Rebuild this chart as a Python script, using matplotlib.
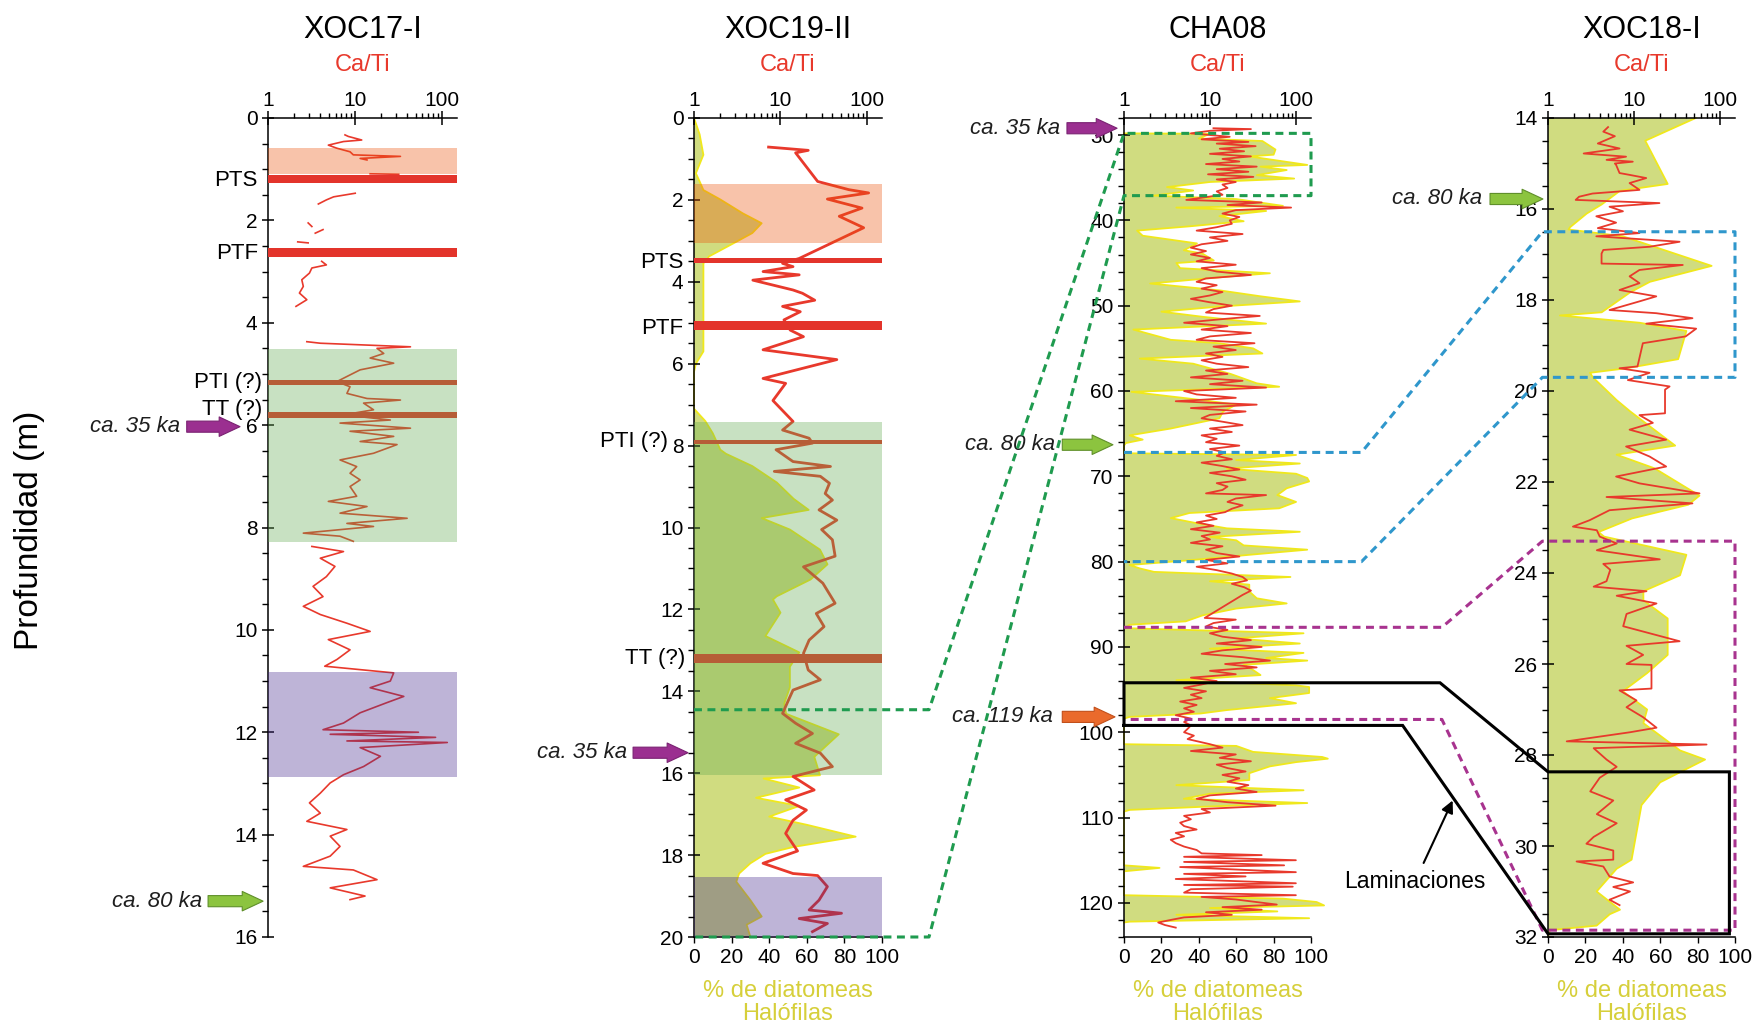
import numpy as np
import matplotlib
matplotlib.use("Agg")
from matplotlib import pyplot as plt
from matplotlib import transforms
from matplotlib.lines import Line2D
from matplotlib.patches import FancyArrowPatch
from matplotlib.ticker import MultipleLocator, NullFormatter

plt.rcParams['font.family'] = ['Liberation Sans', 'DejaVu Sans']

nan = np.nan

CORES = ['XOC17-I', 'XOC19-II', 'CHA08', 'XOC18-I']

# Ca/Ti (profundidad m, razon) -- nan corta la serie donde no hay medida
XOC17_CATI = [
    (0.33, 7.7), (0.36, 8.4), (0.43, 12), (0.46, 7.4), (0.53, 4.95), (0.59, 6.2), (0.66, 8.8),
    (0.72, 9.6), (0.75, 33.5), (0.79, 11.5), (0.82, 13.8), (nan, nan),
    (1.09, 15), (1.10, 32), (nan, nan),
    (1.47, 10.1), (1.54, 5.7), (1.60, 4.7), (1.68, 3.8), (nan, nan),
    (2.05, 2.9), (2.12, 3.2), (nan, nan), (2.18, 4.3), (2.25, 3.5), (nan, nan),
    (2.42, 2.2), (2.44, 2.9), (nan, nan),
    (2.80, 4.15), (2.87, 4.7), (2.93, 3.2), (3.03, 3.0), (3.16, 2.45), (3.29, 2.55), (3.42, 2.3),
    (3.55, 2.8), (3.68, 2.1), (nan, nan),
    (4.37, 2.8), (4.40, 4.0), (4.47, 43.7), (4.50, 18), (4.60, 21.5), (4.69, 15), (4.79, 28),
    (4.92, 11.5), (5.05, 8.1), (5.15, 6.2), (5.25, 8.8), (5.38, 8.1), (5.48, 13.8), (5.51, 33.5),
    (5.57, 12.6), (5.70, 16.4), (5.80, 7.4), (5.90, 25.6), (5.96, 6.75), (6.06, 43.7), (6.12, 8.8),
    (6.22, 28), (6.32, 11.5), (6.38, 30.6), (6.55, 16.4), (6.68, 6.75), (6.81, 10.5), (6.94, 8.8),
    (7.07, 11.5), (7.20, 8.8), (7.39, 10.5), (7.49, 4.95), (7.59, 13.8), (7.72, 6.75), (7.82, 40),
    (7.92, 8.1), (7.98, 16.4), (8.11, 2.55), (8.17, 6.75), (8.27, 9.6), (nan, nan),
    (8.37, 3.2), (8.47, 7.4), (8.60, 4.0), (8.76, 5.9), (8.96, 4.7), (9.15, 3.3), (9.35, 4.3),
    (9.54, 2.55), (9.70, 4.0), (9.87, 8.1), (10.03, 15), (10.19, 4.95), (10.39, 8.8), (10.58, 6.2),
    (10.71, 4.5), (10.84, 28), (11.00, 25.6), (11.13, 15), (11.30, 36.6), (11.42, 23.5),
    (11.62, 11.5), (11.82, 7.4), (11.95, 4.3), (12.00, 54), (12.04, 5.2), (12.10, 85), (12.17, 8.1),
    (12.20, 116), (12.30, 11.5), (12.47, 19.7), (12.67, 12.6), (12.83, 7.4), (12.99, 5.2),
    (13.19, 4.0), (13.38, 3.0), (13.58, 4.0), (13.74, 2.8), (13.90, 8.1), (14.03, 5.2),
    (14.23, 6.75), (14.42, 5.2), (14.62, 2.55), (14.69, 9.6), (14.88, 18), (15.04, 5.2),
    (15.20, 13.1), (15.27, 8.8),
]

XOC19_CATI = [
    (0.71, 7.3), (0.79, 21), (0.85, 15), (1.55, 27), (1.75, 62), (1.83, 105), (1.98, 35), (2.2, 88),
    (2.4, 48), (2.68, 92), (3.43, 16.5), (3.55, 10.6), (3.63, 14), (3.75, 6.3), (3.83, 16.5),
    (3.96, 4.8), (4.2, 14), (4.28, 18), (4.45, 25), (4.6, 10.6), (4.73, 17), (4.93, 11), (5.18, 13),
    (5.34, 18.5), (5.66, 6.3), (5.9, 45), (6.36, 6.3), (6.48, 11.5), (6.9, 8.2), (7.41, 14),
    (7.62, 10.6), (7.82, 21.5), (7.94, 23.5), (8.1, 8.9), (8.39, 14), (8.51, 38), (8.63, 8.5),
    (8.75, 29), (8.92, 37), (9.17, 33), (9.33, 40), (9.57, 28), (9.82, 45), (10.05, 30), (10.3, 40),
    (10.7, 43), (10.96, 18.5), (11.36, 31), (11.85, 43), (12.1, 26), (12.42, 32), (12.75, 21.5),
    (13.07, 18.5), (13.48, 21), (13.72, 29), (13.97, 14), (14.2, 12.5), (14.54, 10.6), (14.78, 15),
    (15.03, 23.5), (15.27, 15), (15.51, 29), (15.84, 40), (16.08, 14), (16.41, 24.6), (16.65, 11.5),
    (16.9, 20), (17.15, 14), (17.47, 11.5), (17.9, 15.8), (18.2, 6.3), (18.45, 14), (18.5, 27),
    (18.77, 35), (19.1, 28), (19.34, 21.5), (19.42, 51), (19.55, 16.5), (19.67, 35), (19.87, 23.5),
]

CHA08_CATI = [
    (29.2, 11), (29.3, 30), (29.5, 10), (29.8, 6), (30.2, 17), (30.5, 8), (30.8, 28), (31.0, 12),
    (31.3, 34), (31.6, 13), (31.9, 25), (32.2, 10), (32.5, 30), (32.8, 14), (33.1, 22), (33.4, 9),
    (33.7, 35), (34.0, 12), (34.3, 28), (34.6, 9.5), (34.9, 32), (35.2, 12), (35.5, 20), (35.8, 14),
    (36.2, 16), (36.6, 12), (37.0, 14), (37.6, 5.3), (37.9, 40), (38.2, 16), (38.5, 88), (38.8, 20),
    (39.2, 14), (39.6, 22), (40.0, 17), (40.4, 18), (40.8, 12), (41.2, 7), (41.6, 24), (42.0, 10),
    (42.4, 16), (42.8, 8), (43.2, 6), (43.6, 9), (44.0, 6), (44.4, 10), (44.8, 7), (45.2, 20),
    (45.6, 8), (46.0, 12), (46.4, 30), (46.8, 9), (47.2, 7), (47.6, 12), (48.0, 8), (48.4, 14),
    (48.8, 10), (49.2, 6), (49.6, 10), (50.0, 18), (50.4, 11), (50.8, 9), (51.2, 38), (51.6, 13),
    (52.0, 5), (52.4, 16), (52.8, 8), (53.2, 30), (53.6, 10), (54.0, 7), (54.4, 33), (54.8, 11),
    (55.2, 20), (55.6, 9), (56.0, 14), (56.4, 8), (56.8, 12), (57.2, 28), (57.6, 9), (58.0, 16),
    (58.4, 6), (58.8, 24), (59.2, 10), (59.6, 45), (60.0, 5), (60.4, 7), (60.8, 20), (61.2, 4),
    (61.6, 35), (62.0, 6), (62.4, 26), (62.8, 10), (63.2, 8), (63.6, 14), (64.0, 24), (64.4, 10),
    (64.8, 18), (65.2, 8), (65.6, 12), (66.0, 9), (66.4, 22), (66.8, 10), (67.2, 15), (67.6, 12),
    (68.0, 18), (68.4, 8), (68.8, 14), (69.2, 22), (69.6, 10), (70.0, 18), (70.4, 26), (70.8, 12),
    (71.2, 16), (71.6, 14), (72.0, 9), (72.2, 45), (72.6, 20), (73.0, 16), (73.4, 24), (73.8, 18),
    (74.2, 15), (74.6, 9), (75.0, 12), (75.4, 7), (75.8, 11), (76.2, 6), (76.6, 13), (77.0, 8),
    (77.4, 10), (77.8, 6), (78.2, 14), (78.6, 9), (79.0, 12), (79.4, 22), (79.8, 9), (80.2, 16),
    (80.6, 7), (81.0, 12), (81.4, 18), (81.8, 24), (82.2, 27), (82.6, 18), (83.0, 25), (83.4, 30),
    (83.9, 24), (86.6, 8.7), (86.8, 20), (87.2, 11), (87.6, 9), (88.0, 16), (88.4, 10), (88.8, 14),
    (89.2, 30), (89.6, 12), (90.0, 40), (90.4, 14), (90.8, 8), (91.2, 24), (91.6, 50), (92.0, 15),
    (92.4, 35), (92.8, 10), (93.2, 20), (93.6, 6), (94.0, 12), (94.4, 8), (94.8, 5), (95.2, 9),
    (95.6, 6), (96.0, 8), (96.4, 4.5), (96.8, 7), (97.2, 5), (97.6, 6.5), (98.0, 4), (98.4, 6),
    (98.8, 5), (99.2, 6), (99.6, 5.5), (100.0, 5), (100.4, 6.5), (100.8, 5.5), (101.4, 10),
    (101.8, 14), (102.2, 6), (102.6, 20), (103.0, 13), (103.4, 30), (103.8, 12), (104.2, 16),
    (104.6, 26), (105.0, 14), (105.4, 22), (105.8, 16), (106.2, 28), (106.6, 20), (107.0, 35),
    (107.4, 10), (107.8, 7), (108.2, 16), (108.6, 58), (109.0, 8), (109.4, 10), (109.8, 5),
    (110.2, 6), (110.6, 4.5), (111.0, 5), (111.4, 7), (111.8, 4), (112.2, 5), (112.6, 3.5),
    (113.0, 4), (113.4, 5), (113.8, 7), (114.2, 8), (114.4, 40), (114.6, 5), (115.0, 100),
    (115.2, 5), (115.6, 73), (115.8, 4.5), (116.4, 100), (116.6, 5), (116.9, 26), (117.2, 4),
    (117.7, 100), (117.9, 5), (118.1, 92), (118.4, 6), (118.8, 5), (119.1, 100), (119.3, 8),
    (119.6, 20), (119.9, 35), (120.2, 60), (120.5, 14), (120.8, 40), (121.1, 9), (121.4, 18),
    (121.7, 5), (122.0, 3.5), (122.3, 2.5), (122.6, 3.0), (122.9, 4),
]

XOC18_CATI = [
    (14.2, 5.0), (14.3, 4.4), (14.4, 6.0), (14.56, 3.8), (14.67, 6.8), (14.78, 2.6), (14.85, 8.1),
    (14.92, 4.8), (14.96, 9.7), (15.0, 6.0), (15.03, 6.2), (15.21, 6.8), (15.25, 8.9), (15.32, 13.9),
    (15.43, 8.9), (15.58, 11.6), (15.66, 3.3), (15.73, 2.3), (15.8, 2.1), (15.87, 19.8), (15.95, 5.2),
    (16.05, 7.45), (16.16, 3.65), (16.3, 6.2), (16.42, 3.8), (16.53, 11.6), (16.6, 3.65), (16.72, 34),
    (16.83, 15.2), (16.9, 4.4), (16.98, 4.2), (17.2, 4.2), (17.23, 37), (17.34, 11.6), (17.48, 8.9),
    (17.63, 11.6), (17.78, 6.8), (17.92, 18.2), (18.03, 11.6), (18.22, 5.2), (18.29, 18.2),
    (18.4, 48), (18.52, 13.9), (18.63, 53), (18.8, 40), (18.95, 12.7), (19.46, 11), (19.5, 6.8),
    (19.6, 15.2), (19.76, 8.5), (19.9, 26), (19.97, 23), (20.49, 23), (20.53, 11.6), (20.7, 16.6),
    (20.85, 8.9), (21.07, 23.7), (21.22, 8.1), (21.44, 15.2), (21.66, 23.7), (21.88, 6.2),
    (22.03, 11.6), (22.25, 58), (22.33, 4.8), (22.47, 48), (22.62, 5.2), (22.84, 3.05), (22.98, 1.95),
    (23.06, 3.7), (23.2, 4.0), (23.35, 6.3), (23.5, 3.7), (23.7, 20), (23.8, 4.4), (23.93, 5.3),
    (24.18, 4.8), (24.3, 3.4), (24.4, 14), (24.5, 6.3), (24.67, 18.3), (24.9, 8.2), (25.17, 7.5),
    (25.5, 34), (25.6, 8.2), (25.8, 12.8), (26.0, 8.2), (26.02, 16), (26.54, 16), (26.58, 6.8),
    (26.8, 10.7), (26.95, 8.2), (27.17, 12.8), (27.4, 18.3), (27.5, 9), (27.7, 1.65), (27.77, 70),
    (27.85, 3.4), (28.1, 4.8), (28.26, 6.3), (28.5, 4.0), (28.8, 3.1), (29.0, 5.75), (29.3, 3.7),
    (29.5, 6.3), (29.8, 3.4), (29.95, 2.8), (30.1, 5.75), (30.3, 5.75), (30.34, 2.15), (30.45, 4.4),
    (30.67, 5.2), (30.8, 9.8), (30.9, 5.75), (31.0, 9), (31.18, 5.2), (31.3, 6.8),
]

# % de diatomeas halofilas (profundidad m, %)
XOC19_DIAT = [
    (0.0, 0), (0.4, 3), (0.9, 5), (1.35, 1), (1.55, 3), (1.76, 5), (1.99, 14), (2.33, 26), (2.57, 36),
    (2.81, 31), (3.06, 21), (3.38, 8), (3.55, 5), (5.7, 5), (6.0, 1), (6.2, 0), (7.1, 0), (7.15, 1),
    (7.4, 6), (7.7, 10), (8.1, 14), (8.2, 17), (8.5, 31), (8.9, 44), (9.3, 53), (9.57, 61),
    (9.77, 36), (10.05, 51), (10.54, 67), (10.9, 71), (11.27, 62), (11.68, 44), (11.76, 42),
    (12.08, 46), (12.65, 38), (13.05, 56), (13.4, 51), (13.9, 51), (14.3, 48), (14.55, 49),
    (15.05, 77), (15.6, 64), (16.05, 67), (16.13, 37), (16.35, 56), (16.6, 33), (16.8, 56),
    (17.06, 40), (17.26, 60), (17.55, 86), (17.8, 53), (17.97, 38), (18.2, 30), (18.45, 24),
    (18.65, 22.5), (19.1, 30), (19.5, 36), (19.7, 28), (20.0, 30),
]

CHA08_DIAT = [
    (29.8, 0), (29.85, 46), (30.4, 40), (30.7, 74), (31.7, 81), (32.3, 80), (32.5, 67), (33.5, 98),
    (33.7, 73), (34.1, 87), (34.7, 71), (35.1, 91), (35.5, 46), (36.1, 23), (36.5, 37), (37.1, 16),
    (37.5, 60), (38.3, 85), (38.5, 28), (38.9, 76), (39.5, 51), (40.1, 64), (40.7, 35), (41.2, 7),
    (41.8, 10), (42.7, 39), (43.5, 32), (43.9, 42), (44.7, 48), (45.0, 28), (45.6, 30), (46.2, 78),
    (46.6, 55), (47.4, 14), (48.2, 51), (48.9, 73), (49.5, 94), (50.1, 51), (50.7, 20), (51.3, 42),
    (52.1, 76), (52.8, 5), (54.0, 25), (54.4, 51), (55.0, 69), (55.6, 74), (56.2, 8.5), (56.8, 37),
    (58.0, 57), (59.1, 71), (59.5, 83), (60.1, 4), (61.1, 43), (61.6, 60), (62.4, 53), (63.2, 51),
    (64.4, 25), (65.2, 3), (65.7, 10), (66.1, 1), (66.4, 0), (67.3, 0), (67.5, 92), (68.1, 60),
    (68.5, 94), (69.1, 55), (69.7, 92), (70.2, 98), (70.6, 99), (71.4, 87), (72.2, 82), (73.0, 92),
    (73.75, 83), (74.3, 35), (74.9, 25), (75.5, 39), (76.1, 55), (76.5, 94), (77.1, 46), (77.5, 60),
    (78.1, 64), (78.6, 98), (79.2, 67), (79.8, 37), (80.4, 3), (80.8, 8.5), (81.2, 16), (81.8, 89),
    (82.3, 46), (82.7, 67), (83.5, 67), (84.3, 71), (84.9, 87), (85.5, 60), (86.3, 42), (87.0, 33),
    (87.4, 3), (87.8, 0.5), (88.4, 96), (89.0, 60), (89.6, 94), (90.2, 46), (90.7, 96), (91.3, 76),
    (91.6, 98), (92.1, 64), (92.7, 69), (93.3, 73), (93.9, 28), (94.5, 92), (94.7, 99), (95.4, 99),
    (96.0, 78), (96.6, 92), (97.4, 55), (97.8, 41), (98.2, 3), (98.4, 0), (101.4, 0), (101.6, 60),
    (102.3, 69), (102.9, 106), (103.1, 109), (103.5, 92), (104.0, 78), (104.8, 67), (105.6, 67),
    (106.2, 28), (106.8, 96), (107.2, 46), (107.8, 32), (108.3, 98), (108.7, 46), (109.1, 3),
    (109.3, 0), (115.6, 0), (115.9, 19), (116.3, 0), (119.1, 0), (119.5, 85), (119.9, 103),
    (120.3, 107), (120.6, 46), (121.0, 82), (121.4, 28), (121.8, 99), (122.2, 3), (122.3, 0),
]

XOC18_DIAT = [
    (14.0, 79), (14.5, 52), (15.45, 64), (15.6, 38.5), (15.9, 28.7), (16.1, 20.7), (16.4, 11.8),
    (16.45, 11), (16.6, 40), (17.25, 87.5), (17.6, 54.5), (17.83, 44), (18.27, 28.7), (18.34, 6.4),
    (18.5, 49), (18.68, 74), (19.3, 69.6), (19.5, 42), (19.6, 22.5), (19.7, 24), (20.2, 36.7),
    (20.45, 44), (21.2, 68), (21.4, 36.7), (21.7, 57), (22.3, 81), (22.5, 75), (22.8, 45), (23.1, 27),
    (23.2, 30), (23.6, 74), (24.05, 70.6), (24.4, 51), (24.6, 51), (25.0, 64), (25.8, 64), (26.2, 53),
    (26.6, 40), (27.0, 53), (27.3, 51), (27.9, 70.6), (28.1, 84), (28.6, 60), (29.1, 50),
    (30.3, 44.7), (30.5, 36.7), (31.0, 26), (31.4, 38.5), (31.5, 33), (31.75, 26), (31.85, 1),
    (32.0, 0),
]

# tefras (techo, base) y unidades sombreadas (techo, base, tipo)
XOC17_TEPHRA = [(1.11, 1.27), (2.54, 2.72), (5.12, 5.21), (5.75, 5.87)]
XOC17_TEPHRA_NAMES = ['PTS', 'PTF', 'PTI (?)', 'TT (?)']
XOC17_UNITS = [(0.59, 1.09, 'naranja'), (4.52, 8.28, 'verde'), (10.82, 12.87, 'morado')]

XOC19_TEPHRA = [(3.41, 3.53), (4.95, 5.18), (7.86, 7.97), (13.1, 13.3)]
XOC19_TEPHRA_NAMES = ['PTS', 'PTF', 'PTI (?)', 'TT (?)']
XOC19_UNITS = [(1.6, 3.05, 'naranja'), (7.42, 16.05, 'verde'), (18.53, 20.0, 'morado')]

RED = '#e8392c'
TEPHRA_RED = '#e3342b'
FILL = '#d0dc80'
EDGE = '#f0e81c'
PCT_TEXT = '#d6cf3a'
UNIT_COLORS = {'naranja': '#eb540c', 'verde': '#64aa50', 'morado': '#45298d'}

W, H = 1756, 1027
AX_TOP, AX_BOT = 118, 937

fig = plt.figure(figsize=(W / 100, H / 100), dpi=100)


def add_panel(x0, x1, dmin, dmax, major, minor, pct_axis):
    ax = fig.add_axes([x0 / W, 1 - AX_BOT / H, (x1 - x0) / W, (AX_BOT - AX_TOP) / H])
    ax.set_xlim(0, 100)
    ax.set_ylim(dmax, dmin)

    axl = ax.twiny()
    axl.set_xscale('log')
    axl.set_xlim(1, 150)
    for s in ['left', 'right', 'bottom']:
        axl.spines[s].set_visible(False)
    axl.spines['top'].set_linewidth(1.1)
    axl.set_xticks([1, 10, 100], ['1', '10', '100'])
    axl.set_xticks([2, 3, 4, 5, 6, 7, 8, 9, 20, 30, 40, 50, 60, 70, 80, 90], minor=True)
    axl.xaxis.set_minor_formatter(NullFormatter())
    axl.tick_params(axis='x', which='major', direction='inout', length=10, width=1.1,
                    labelsize=15, pad=1)
    axl.tick_params(axis='x', which='minor', direction='out', length=3.5, width=1.0)

    # twiny() vuelve a poner ticks abajo, asi que el eje de % se ajusta despues
    ax.spines['top'].set_visible(False)
    ax.spines['right'].set_visible(False)
    for s in ax.spines.values():
        s.set_linewidth(1.1)
    ax.yaxis.set_major_locator(MultipleLocator(major))
    ax.yaxis.set_minor_locator(MultipleLocator(minor))
    ax.tick_params(axis='y', which='major', direction='inout', length=9, width=1.1,
                   labelsize=15, pad=3)
    ax.tick_params(axis='y', which='minor', direction='out', length=4, width=1.0)
    if pct_axis:
        ax.set_xticks([0, 20, 40, 60, 80, 100])
        ax.tick_params(axis='x', direction='out', length=4, width=1.0, labelsize=15, pad=4)
    else:
        ax.spines['bottom'].set_visible(False)
        ax.tick_params(axis='x', which='both', bottom=False, labelbottom=False)
    return ax, axl


def draw_diatoms(ax, series):
    d, p = np.array(series).T
    ax.fill_betweenx(d, 0, p, facecolor=FILL, edgecolor='none', zorder=1, clip_on=False)
    ax.plot(p, d, color=EDGE, lw=1.3, zorder=1.5, clip_on=False)


def draw_cati(axl, series, lw):
    d, v = np.array(series).T
    axl.plot(v, d, color=RED, lw=lw, zorder=2)


def draw_units(axl, tephras, units):
    for top, base in tephras:
        axl.axhspan(top, base, color=TEPHRA_RED, lw=0, zorder=3)
    for top, base, kind in units:
        axl.axhspan(top, base, color=UNIT_COLORS[kind], alpha=0.35, lw=0, zorder=4)


def side_label(ax, xf, depth, text):
    tr = transforms.blended_transform_factory(ax.transAxes, ax.transData)
    ax.text(xf, depth, text, transform=tr, ha='right', va='center', fontsize=16, clip_on=False)


def age_arrow(ax, depth, x_tail, x_tip, x_text, text, color, edge):
    tr = transforms.blended_transform_factory(ax.transAxes, ax.transData)
    arrow = FancyArrowPatch((x_tail, depth), (x_tip, depth), transform=tr,
                            arrowstyle='simple,head_length=1.5,head_width=1.4,tail_width=0.8',
                            mutation_scale=10, fc=color, ec=edge, lw=0.8,
                            shrinkA=0, shrinkB=0, clip_on=False, zorder=5)
    ax.add_patch(arrow)
    ax.text(x_text, depth, text, transform=tr, ha='right', va='center', fontsize=16,
            style='italic', color='#1e1e1e', clip_on=False)


PURPLE_ARROW = ('#9b2f90', '#7a2272')
GREEN_ARROW = ('#8cc43f', '#5f8f2a')
ORANGE_ARROW = ('#ea6a2c', '#c24f1a')

# columnas: x de los ejes en px
panels = [(268, 457), (694, 882), (1124, 1311), (1548, 1735)]

ax1, axl1 = add_panel(*panels[0], 0, 16, 2, 0.5, False)
ax2, axl2 = add_panel(*panels[1], 0, 20, 2, 0.5, True)
ax3, axl3 = add_panel(*panels[2], 28, 124, 10, 2, True)
ax4, axl4 = add_panel(*panels[3], 14, 32, 2, 0.5, True)

# XOC17-I
draw_cati(axl1, XOC17_CATI, 1.2)
draw_units(axl1, XOC17_TEPHRA, XOC17_UNITS)
for name, depth, xf in zip(XOC17_TEPHRA_NAMES, [1.23, 2.64, 5.16, 5.69], [-0.053, -0.053, -0.03, -0.03]):
    side_label(ax1, xf, depth, name)
age_arrow(ax1, 6.03, -0.43, -0.148, -0.466, 'ca. 35 ka', *PURPLE_ARROW)
age_arrow(ax1, 15.3, -0.317, -0.026, -0.35, 'ca. 80 ka', *GREEN_ARROW)

# XOC19-II
draw_diatoms(ax2, XOC19_DIAT)
draw_cati(axl2, XOC19_CATI, 2.0)
draw_units(axl2, XOC19_TEPHRA, XOC19_UNITS)
for name, depth, xf in zip(XOC19_TEPHRA_NAMES, [3.52, 5.13, 7.9, 13.2], [-0.058, -0.058, -0.138, -0.048]):
    side_label(ax2, xf, depth, name)
age_arrow(ax2, 15.5, -0.324, -0.032, -0.356, 'ca. 35 ka', *PURPLE_ARROW)

# CHA08
draw_diatoms(ax3, CHA08_DIAT)
draw_cati(axl3, CHA08_CATI, 1.3)
age_arrow(ax3, 29.2, -0.305, -0.037, -0.34, 'ca. 35 ka', *PURPLE_ARROW)
age_arrow(ax3, 66.3, -0.33, -0.059, -0.37, 'ca. 80 ka', *GREEN_ARROW)
age_arrow(ax3, 98.2, -0.33, -0.048, -0.38, 'ca. 119 ka', *ORANGE_ARROW)

# XOC18-I
draw_diatoms(ax4, XOC18_DIAT)
draw_cati(axl4, XOC18_CATI, 1.3)
age_arrow(ax4, 15.78, -0.31, -0.027, -0.35, 'ca. 80 ka', *GREEN_ARROW)

ax4.annotate('Laminaciones', xy=(-51, 29.0), xytext=(-71, 30.77), ha='center', va='center',
             fontsize=16.5, annotation_clip=False,
             arrowprops=dict(arrowstyle='-|>', color='black', lw=1.5, mutation_scale=18,
                             shrinkA=3, shrinkB=0))

# titulos y etiquetas de ejes
for (x0, x1), name, pct in zip(panels, CORES, [False, True, True, True]):
    xc = (x0 + x1) / 2 / W
    fig.text(xc, 1 - 30 / H, name, ha='center', va='center', fontsize=22)
    fig.text(xc, 1 - 65 / H, 'Ca/Ti', ha='center', va='center', fontsize=17, color=RED)
    if pct:
        fig.text(xc, 1 - 991 / H, '% de diatomeas', ha='center', va='center', fontsize=17,
                 color=PCT_TEXT)
        fig.text(xc, 1 - 1014 / H, 'Halófilas', ha='center', va='center', fontsize=17,
                 color=PCT_TEXT)
fig.text(30 / W, 1 - 530 / H, 'Profundidad (m)', rotation=90, ha='center', va='center',
         fontsize=24)


# lineas de correlacion entre sondeos
def to_fig(ax, x, y):
    return fig.transFigure.inverted().transform(ax.transData.transform((x, y)))


def connector(points, color, dashed=True):
    pts = np.array([to_fig(a, x, y) for a, x, y in points])
    style = (0, (2.6, 1.8)) if dashed else '-'
    fig.add_artist(Line2D(pts[:, 0], pts[:, 1], transform=fig.transFigure, color=color,
                          lw=2.2, linestyle=style, solid_joinstyle='miter', zorder=6))


connector([(ax2, 0, 14.45), (ax2, 125, 14.45), (ax3, 0, 29.8), (ax3, 100, 29.8),
           (ax3, 100, 37.1), (ax3, 0, 37.1), (ax2, 125, 20.0), (ax2, 0, 20.0)], '#1f9b4f')
connector([(ax3, 0, 67.2), (ax3, 127, 67.2), (ax4, -3, 16.5), (ax4, 100, 16.5),
           (ax4, 100, 19.7), (ax4, -3, 19.7), (ax3, 127, 80.0), (ax3, 0, 80.0)], '#2f97cc')
connector([(ax3, 0, 87.7), (ax3, 170, 87.7), (ax4, -3, 23.3), (ax4, 100, 23.3),
           (ax4, 100, 31.85), (ax4, -3, 31.85), (ax3, 170, 98.5), (ax3, 0, 98.5)], '#a8338f')
connector([(ax3, 0, 99.2), (ax3, 0, 94.2), (ax3, 169, 94.2), (ax4, 0, 28.37), (ax4, 97, 28.37),
           (ax4, 97, 31.93), (ax4, 0, 31.93), (ax3, 149, 99.2), (ax3, 0, 99.2)], 'black',
          dashed=False)

fig.savefig('out.png', dpi=100)
